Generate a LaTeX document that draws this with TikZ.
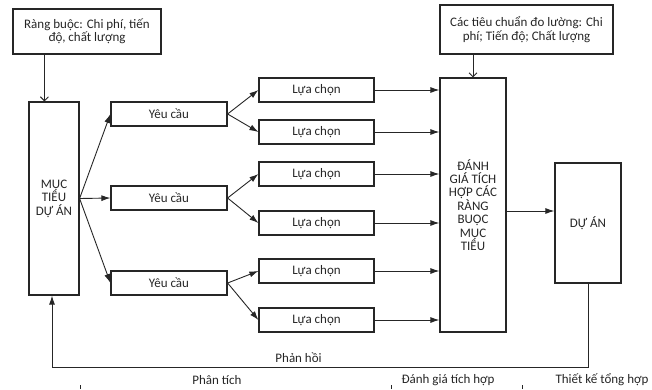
\documentclass[tikz,border=0pt]{standalone}
\usepackage{fontspec}
\setmainfont{Carlito}
\usetikzlibrary{arrows.meta}

\begin{document}
\begin{tikzpicture}[
    x=1pt, y=-1pt,
    every node/.style={font=\fontsize{13}{13.4}\selectfont, text=black!85},
    box/.style={draw=black!85, line width=1.2pt, align=center, inner sep=0pt},
    filltip/.style={draw=black!85, line width=0.9pt, -{Latex[length=9pt,width=6pt]}},
    opentip/.style={draw=black!85, line width=0.9pt, -{Straight Barb[length=4pt,width=8pt]}}
  ]
  \useasboundingbox (0,0) rectangle (652,389);
  \node[box, minimum width=148pt, minimum height=45pt] (cons) at (87,31.5) {Ràng buộc: Chi phí, tiến\\độ, chất lượng};
  \node[box, minimum width=173pt, minimum height=49pt] (std) at (526.5,29.5) {Các tiêu chuẩn đo lường: Chi\\phí; Tiến độ; Chất lượng};
  \node[box, minimum width=50pt, minimum height=193pt] (mt) at (54,198.5) {MỤC\\TIÊU\\DỰ ÁN};
  \node[box, minimum width=66pt, minimum height=254pt] (dg) at (473,205) {ĐÁNH\\GIÁ TÍCH\\HỢP CÁC\\RÀNG\\BUỘC\\MỤC\\TIÊU};
  \node[box, minimum width=66pt, minimum height=120pt] (da) at (588,223) {DỰ ÁN};
  \foreach \i/\y in {1/114, 2/198, 3/283}
    \node[box, minimum width=116pt, minimum height=24pt] (yc\i) at (169,\y) {Yêu cầu};
  \foreach \i/\y in {1/90, 2/132, 3/174, 4/223, 5/271, 6/320}
    \node[box, minimum width=115pt, minimum height=24pt] (lc\i) at (316.5,\y) {Lựa chọn};

  \draw[opentip] ([xshift=16pt]mt.north west |- cons.south) -- ([xshift=16pt]mt.north west);
  \draw[opentip] (std.south -| dg.north) -- (dg.north);
  \foreach \i in {1,2,3}
    \draw[filltip] (mt.east) -- (yc\i.west);
  \foreach \i/\a/\b in {1/1/2, 2/3/4, 3/5/6} {
    \draw[filltip] (yc\i.east) -- (lc\a.west);
    \draw[filltip] (yc\i.east) -- (lc\b.west);
  }
  \foreach \i in {1,...,6}
    \draw[filltip] (lc\i.east) -- (lc\i.east -| dg.west);
  \draw[filltip] ([yshift=-6pt]dg.east) -- ([yshift=-6pt]dg.east -| da.west);
  \draw[filltip] (da.south) -- ++(0,84) -| ([xshift=-2pt]mt.south)
    node[pos=0.27, above=1pt] (fb) {Phản hồi};

  \node (phan) at (217,380) {Phân tích};
  \node (tich) at (448,380) {Đánh giá tích hợp};
  \node (tong) at (602,380) {Thiết kế tổng hợp};
  \foreach \x in {80, 391, 522}
    \draw[black!85, line width=0.9pt] (\x,385) -- (\x,389);
\end{tikzpicture}
\end{document}
